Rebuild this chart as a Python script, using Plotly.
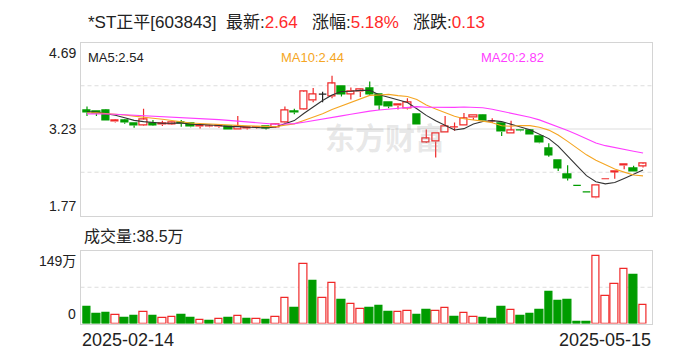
import plotly.graph_objects as go

# ---------------- data ----------------
stock_name = "*ST正平[603843]"
date_labels = ["2025-02-14", "2025-05-15"]

opens = [3.55, 3.52, 3.55, 3.35, 3.38, 3.33, 3.29, 3.33, 3.30, 3.31,
         3.34, 3.32, 3.27, 3.27, 3.27, 3.27, 3.22, 3.24, 3.25, 3.27,
         3.26, 3.34, 3.53, 3.56, 3.71, 3.82, 3.78, 3.95, 3.82, 3.86,
         3.91, 3.81, 3.67, 3.62, 3.57, 3.47, 3.01, 3.02, 3.17, 3.255,
         3.29, 3.42, 3.45, 3.35, 3.33, 3.16, 3.21, 3.21, 3.11, 2.90,
         2.69, 2.47, 2.28, 2.17, 2.07, 2.39, 2.50, 2.61, 2.56, 2.60]
highs = [3.61, 3.53, 3.56, 3.39, 3.39, 3.33, 3.57, 3.38, 3.37, 3.35,
         3.38, 3.32, 3.29, 3.30, 3.30, 3.28, 3.45, 3.26, 3.27, 3.28,
         3.31, 3.61, 3.57, 3.87, 3.92, 3.86, 4.13, 3.95, 3.93, 3.91,
         4.03, 3.81, 3.68, 3.64, 3.75, 3.47, 3.22, 3.16, 3.45, 3.34,
         3.50, 3.46, 3.47, 3.41, 3.33, 3.37, 3.21, 3.21, 3.11, 2.99,
         2.69, 2.62, 2.28, 2.17, 2.28, 2.39, 2.51, 2.63, 2.61, 2.65]
lows = [3.45, 3.45, 3.37, 3.34, 3.32, 3.25, 3.28, 3.28, 3.28, 3.30,
        3.27, 3.26, 3.24, 3.26, 3.25, 3.22, 3.22, 3.22, 3.24, 3.22,
        3.25, 3.33, 3.48, 3.55, 3.68, 3.68, 3.75, 3.78, 3.73, 3.77,
        3.81, 3.55, 3.58, 3.56, 3.56, 3.30, 3.00, 2.75, 3.17, 3.20,
        3.29, 3.38, 3.35, 3.33, 3.11, 3.16, 3.19, 3.14, 2.99, 2.76,
        2.52, 2.36, 2.28, 2.17, 2.06, 2.39, 2.39, 2.55, 2.51, 2.58]
closes = [3.51, 3.50, 3.37, 3.38, 3.34, 3.29, 3.39, 3.29, 3.33, 3.34,
          3.32, 3.27, 3.29, 3.28, 3.29, 3.22, 3.27, 3.25, 3.26, 3.24,
          3.30, 3.55, 3.51, 3.86, 3.82, 3.82, 4.00, 3.82, 3.87, 3.90,
          3.82, 3.63, 3.61, 3.64, 3.68, 3.30, 3.07, 3.16, 3.28, 3.26,
          3.41, 3.46, 3.37, 3.355, 3.18, 3.21, 3.20, 3.14, 3.00, 2.79,
          2.57, 2.40, 2.28, 2.17, 2.28, 2.39, 2.51, 2.63, 2.51, 2.64]
# closes of the 19 sessions before the window (needed for the moving averages)
prior_closes = [3.45, 3.48, 3.44, 3.50, 3.46, 3.49, 3.47, 3.45, 3.48, 3.48,
                3.47, 3.49, 3.46, 3.50, 3.48, 3.51, 3.53, 3.50, 3.55]
# volume in 万 shares
volumes = [33.8, 19.3, 21.4, 16.6, 11.0, 15.2, 22.8, 15.2, 10.3, 12.4,
           17.2, 11.0, 6.2, 4.8, 8.3, 11.0, 14.5, 9.0, 8.3, 6.9,
           12.4, 51.7, 31.7, 122.8, 87.6, 51.7, 83.5, 48.3, 39.3, 29.0,
           31.7, 35.9, 23.5, 22.8, 24.8, 17.2, 27.6, 24.8, 31.0, 13.1,
           20.7, 12.4, 11.0, 9.0, 33.8, 26.9, 15.2, 19.3, 27.6, 64.8,
           46.2, 48.3, 2.8, 2.8, 138.7, 55.9, 80.7, 111.7, 100.0, 38.5]
price_ticks = [1.77, 3.23, 4.69]
volume_ticks = [0, 149]
ma_periods = [5, 10, 20]

# ---------------- styling ----------------
RED = "#f02828"
GREEN = "#009c00"
BLACK = "#222222"
MA_COLORS = {5: "#333333", 10: "#f5a623", 20: "#ff3dff"}
BORDER = "#d4d4d4"
GRID = "#dddddd"
FONT = "Liberation Sans, Noto Sans CJK SC, sans-serif"
W, H = 688, 360


def px(xp):
    return xp / W


def py(yp):
    return 1 - yp / H


n = len(closes)
xs = list(range(n))
all_closes = prior_closes + closes
off = len(prior_closes)


def moving_average(k):
    return [sum(all_closes[off + i - k + 1: off + i + 1]) / k for i in range(n)]


mas = {k: moving_average(k) for k in ma_periods}

prev_close = [all_closes[off + i - 1] for i in range(n)]


def candle_color(i):
    o, c = opens[i], closes[i]
    if c > o:
        return RED
    if c < o:
        return GREEN
    if c > prev_close[i]:
        return RED
    if c < prev_close[i]:
        return GREEN
    return BLACK


ccol = [candle_color(i) for i in range(n)]
vcol = [RED if closes[i] >= prev_close[i] else GREEN for i in range(n)]

fig = go.Figure()

# ---- candle bodies ----
for color, fill in [(RED, "white"), (GREEN, GREEN)]:
    idx = [i for i in range(n) if ccol[i] == color and opens[i] != closes[i]]
    fig.add_trace(go.Bar(
        x=[xs[i] for i in idx],
        y=[abs(closes[i] - opens[i]) for i in idx],
        base=[min(opens[i], closes[i]) for i in idx],
        width=0.78,
        marker=dict(color=fill, line=dict(color=color, width=1.2)),
        xaxis="x", yaxis="y", hoverinfo="skip", showlegend=False))

# ---- wicks (upper & lower separately so they never cross hollow bodies) ----
for color in [RED, GREEN, BLACK]:
    wx, wy = [], []
    for i in range(n):
        if ccol[i] != color:
            continue
        top, bot = max(opens[i], closes[i]), min(opens[i], closes[i])
        if highs[i] > top:
            wx += [xs[i], xs[i], None]
            wy += [top, highs[i], None]
        if lows[i] < bot:
            wx += [xs[i], xs[i], None]
            wy += [lows[i], bot, None]
    # flat (open == close) candles drawn as a dash
    for i in range(n):
        if ccol[i] == color and opens[i] == closes[i]:
            wx += [xs[i] - 0.4, xs[i] + 0.4, None]
            wy += [closes[i], closes[i], None]
    if wx:
        fig.add_trace(go.Scatter(x=wx, y=wy, mode="lines",
                                 line=dict(color=color, width=1.2),
                                 xaxis="x", yaxis="y", hoverinfo="skip",
                                 showlegend=False))

# ---- moving averages ----
for k in ma_periods:
    fig.add_trace(go.Scatter(x=xs, y=mas[k], mode="lines",
                             line=dict(color=MA_COLORS[k], width=1.1),
                             xaxis="x", yaxis="y", hoverinfo="skip",
                             showlegend=False))

# ---- volume ----
for color, fill in [(RED, "white"), (GREEN, GREEN)]:
    idx = [i for i in range(n) if vcol[i] == color]
    fig.add_trace(go.Bar(
        x=[xs[i] for i in idx], y=[volumes[i] for i in idx],
        width=0.8,
        marker=dict(color=fill, line=dict(color=color, width=1.2)),
        xaxis="x2", yaxis="y2", hoverinfo="skip", showlegend=False))

# ---------------- layout ----------------
xdom = [px(80.5), px(651.5)]
xr = [-0.69, n - 1 + 0.9]
axis_common = dict(showline=True, mirror=True, linecolor=BORDER, linewidth=1,
                   showgrid=False, zeroline=False, ticks="", showticklabels=False)

fig.update_layout(
    width=W, height=H, margin=dict(l=0, r=0, t=0, b=0),
    paper_bgcolor="white", plot_bgcolor="white",
    barmode="overlay", bargap=0,
    font=dict(family=FONT, color=BLACK),
    xaxis=dict(domain=xdom, range=xr, anchor="y", **axis_common),
    yaxis=dict(domain=[py(215.5), py(42.5)], range=[price_ticks[0], price_ticks[-1]],
               anchor="x", **axis_common),
    xaxis2=dict(domain=xdom, range=xr, anchor="y2", matches="x", **axis_common),
    yaxis2=dict(domain=[py(323.5), py(251)], range=[volume_ticks[0], volume_ticks[-1]],
                anchor="x2", **axis_common),
)

# grid lines
shapes = []
mid = price_ticks[1]
q_hi = (price_ticks[1] + price_ticks[2]) / 2
q_lo = (price_ticks[0] + price_ticks[1]) / 2
shapes.append(dict(type="line", xref="x domain", yref="y", x0=0, x1=1, y0=mid, y1=mid,
                   line=dict(color=GRID, width=1), layer="below"))
for yv in (q_hi, q_lo):
    shapes.append(dict(type="line", xref="x domain", yref="y", x0=0, x1=1, y0=yv, y1=yv,
                       line=dict(color=GRID, width=1, dash="4px,3px"), layer="below"))
vmid = (volume_ticks[0] + volume_ticks[1]) / 2
shapes.append(dict(type="line", xref="x2 domain", yref="y2", x0=0, x1=1, y0=vmid, y1=vmid,
                   line=dict(color=GRID, width=1, dash="4px,3px"), layer="below"))
fig.update_layout(shapes=shapes)

ann = []
# title
last, prev = closes[-1], closes[-2]
chg = last - prev
pct = chg / prev * 100
rc = "#ff2a2a"
title = (f"{stock_name}&nbsp;&nbsp;最新:<span style='color:{rc}'>{last:.2f}</span>"
         f"&nbsp;&nbsp;&nbsp;涨幅:<span style='color:{rc}'>{pct:.2f}%</span>"
         f"&nbsp;&nbsp;&nbsp;涨跌:<span style='color:{rc}'>{chg:.2f}</span>")
ann.append(dict(text=title, xref="paper", yref="paper", x=px(86), y=py(22),
                xanchor="left", yanchor="middle", showarrow=False,
                font=dict(size=17, color=BLACK, family=FONT)))
# MA labels
for k, xpos in zip(ma_periods, [86, 279, 479]):
    ann.append(dict(text=f"MA{k}:{mas[k][-1]:.2f}", xref="paper", yref="paper",
                    x=px(xpos), y=py(57), xanchor="left", yanchor="middle",
                    showarrow=False, font=dict(size=13, color=MA_COLORS[k] if k != 5 else BLACK)))
# price tick labels
for v, anc in zip(price_ticks, ["bottom", "middle", "top"]):
    ann.append(dict(text=f"{v:.2f}", xref="paper", yref="y", x=px(78), y=v,
                    xanchor="right", yanchor=anc, showarrow=False,
                    font=dict(size=14, color=BLACK)))
# volume tick labels
for v, anc in zip(volume_ticks, ["bottom", "top"]):
    ann.append(dict(text=(f"{v}万" if v else "0"), xref="paper", yref="y2", x=px(78), y=v,
                    xanchor="right", yanchor=anc, showarrow=False,
                    font=dict(size=14, color=BLACK)))
# volume title
ann.append(dict(text=f"成交量:{volumes[-1]:.1f}万", xref="paper", yref="paper",
                x=px(82), y=py(236), xanchor="left", yanchor="middle", showarrow=False,
                font=dict(size=16, color=BLACK)))
# date labels
ann.append(dict(text=date_labels[0], xref="paper", yref="paper", x=px(80), y=py(340),
                xanchor="left", yanchor="middle", showarrow=False,
                font=dict(size=18, color=BLACK)))
ann.append(dict(text=date_labels[1], xref="paper", yref="paper", x=px(653), y=py(340),
                xanchor="right", yanchor="middle", showarrow=False,
                font=dict(size=18, color=BLACK)))
# watermark
ann.append(dict(text="<b>东方财富</b>", xref="paper", yref="paper", x=px(385), y=py(136),
                xanchor="center", yanchor="middle", showarrow=False,
                font=dict(size=30, color="rgba(150,150,150,0.22)", family="Noto Sans CJK SC")))
fig.update_layout(annotations=ann)

fig.write_html("out.html")
